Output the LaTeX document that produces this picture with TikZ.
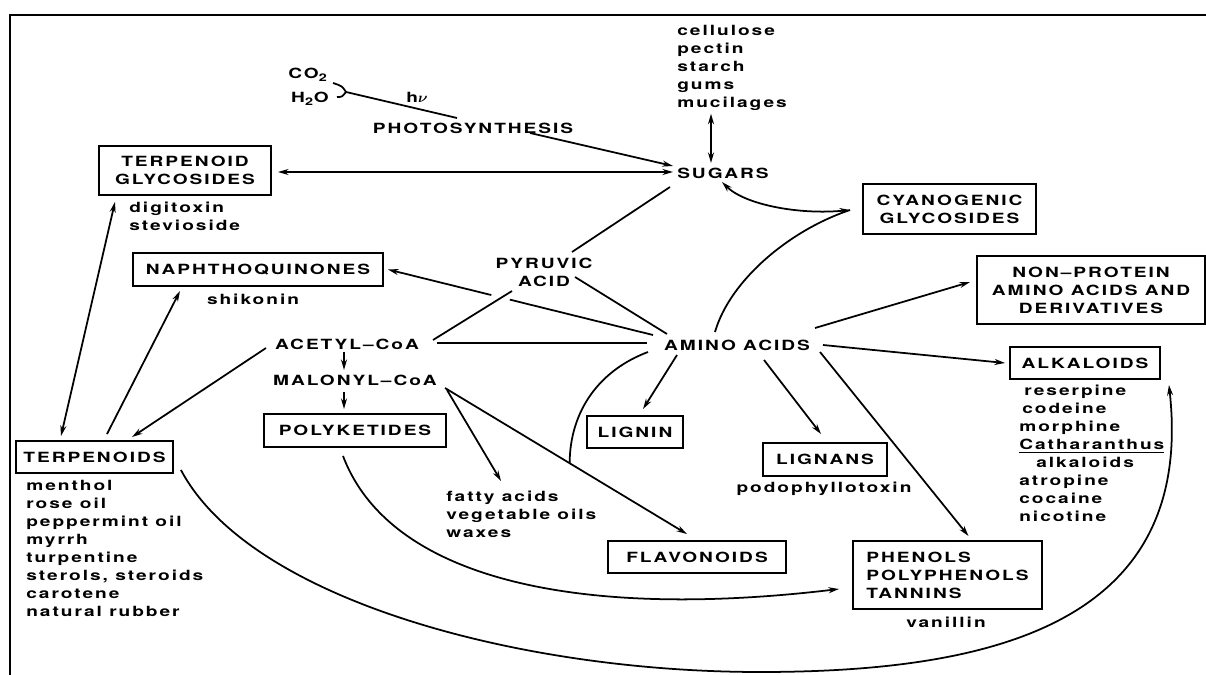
\documentclass[tikz,border=0pt]{standalone}
\usepackage{fontspec}
\setmainfont{TeX Gyre Heros}[FakeStretch=1.36,LetterSpace=14]
\usetikzlibrary{arrows.meta}
\tikzset{
    boxd/.style={draw,line width=1.1pt,inner sep=1pt,align=center},
    word/.style={inner sep=1.5pt,align=center},
    items/.style={inner sep=0pt,align=left,anchor=north west},
    wire/.style={line width=1pt},
    arw/.style={wire,-{Stealth[length=6pt,width=3.4pt]}},
    darw/.style={wire,{Stealth[length=6pt,width=3.4pt]}-{Stealth[length=6pt,width=3.4pt]}}
}

\begin{document}
\begin{tikzpicture}[x=0.02cm,y=-0.02cm,font=\fontsize{8}{10.2}\selectfont\bfseries]
    \useasboundingbox (0,0) rectangle (1206,675);
    \draw[line width=1pt] (10,675) -- (10,15) -- (1206,15);

    \node[word] (co2) at (308,75) {CO\textsubscript{2}};
    \node[word] (h2o) at (310,99) {H\textsubscript{2}O};
    \node[word] (hnu) at (417,97) {h{\boldmath$\nu$}};
    \node[word] (pho) at (473,128) {PHOTOSYNTHESIS};
    \node[word] (sug) at (723,173) {SUGARS};
    \node[items] (cel) at (677,25) {cellulose\\pectin\\starch\\gums\\mucilages};
    \node[boxd,minimum width=3.44cm,minimum height=0.98cm] (tgl) at (185,170.5) {TERPENOID\\GLYCOSIDES};
    \node[items] (tgx) at (129,202) {digitoxin\\stevioside};
    \node[boxd,minimum width=5cm,minimum height=0.66cm] (nph) at (258,269.5) {NAPHTHOQUINONES};
    \node[word] (shk) at (253,299) {shikonin};
    \node[word] (pyr) at (544,272) {PYRUVIC\\ACID};
    \node[boxd,minimum width=3.46cm,minimum height=1cm] (cyg) at (949.5,209) {CYANOGENIC\\GLYCOSIDES};
    \node[boxd,minimum width=4.56cm,minimum height=1.36cm] (npa) at (1091,290) {NON\textendash PROTEIN\\AMINO ACIDS AND\\DERIVATIVES};
    \node[word] (act) at (347,344) {ACETYL\textendash CoA};
    \node[word] (mal) at (355,380) {MALONYL\textendash CoA};
    \node[word] (ami) at (737,345) {AMINO ACIDS};
    \node[boxd,minimum width=3.14cm,minimum height=0.64cm] (trp) at (94.5,457) {TERPENOIDS};
    \node[items] (trx) at (26,480) {menthol\\rose oil\\peppermint oil\\myrrh\\turpentine\\sterols, steroids\\carotene\\natural rubber};
    \node[boxd,minimum width=3.64cm,minimum height=0.66cm] (pk) at (355,430.5) {POLYKETIDES};
    \node[items] (fat) at (446,491) {fatty acids\\vegetable oils\\waxes};
    \node[boxd,minimum width=1.92cm,minimum height=0.64cm] (lgn) at (635,432) {LIGNIN};
    \node[boxd,minimum width=2.48cm,minimum height=0.66cm] (lgs) at (825,459.5) {LIGNANS};
    \node[word] (pod) at (824,489) {podophyllotoxin};
    \node[boxd,minimum width=3cm,minimum height=0.64cm] (alk) at (1085,363) {ALKALOIDS};
    \node[items] (alx) at (1019,385) {\hspace*{0.1cm}reserpine\\\hspace*{0.06cm}codeine\\morphine\\\underline{Catharanthus}\\\hspace*{0.34cm}alkaloids\\atropine\\cocaine\\nicotine};
    \node[boxd,minimum width=3.56cm,minimum height=0.64cm] (flv) at (697,557) {FLAVONOIDS};
    \node[boxd,align=left,minimum width=3.78cm,minimum height=1.36cm] (phn) at (947.5,575) {PHENOLS\\POLYPHENOLS\\TANNINS};
    \node[word] (van) at (946,622) {vanillin};

    \coordinate (jn) at (346,92);
    \draw[wire] ([shift={(25,8)}]co2.center) .. controls (342,86) .. (jn);
    \draw[wire] ([shift={(27,-2)}]h2o.center) .. controls (342,97) .. (jn);
    \draw[wire] (jn) -- ([shift={(-16,-10)}]pho.center);
    \draw[arw] ([shift={(57,5)}]pho.center) -- ([shift={(-50,-7)}]sug.center);
    \draw[darw] ([shift={(6,1.5)}]tgl.east) -- ([shift={(-50,-1)}]sug.center);
    \draw[darw] ([shift={(34,3)}]cel.south west) -- ([shift={(-12,-10)}]sug.center);
    \draw[wire] ([shift={(28,-20)}]pyr.center) -- ([shift={(-53,14)}]sug.center);
    \draw[wire] ([shift={(31,5)}]pyr.center) -- ([shift={(-70,-11)}]ami.center);
    \draw[wire] ([shift={(-32,19)}]pyr.center) -- ([shift={(86,-4)}]act.center);
    \draw[wire] ([shift={(90,-1)}]act.center) -- ([shift={(-90,-2)}]ami.center);

    \coordinate (na) at ([shift={(-84,-10)}]ami.center);
    \coordinate (nb) at ([shift={(4,0)}]nph.east);
    \path (na) -- coordinate[pos=0.54] (g1) coordinate[pos=0.61] (g2) (nb);
    \draw[wire] (na) -- (g1);
    \draw[arw] (g2) -- (nb);

    \coordinate (cin) at ([shift={(-12,1)}]cyg.west);
    \draw[darw] ([shift={(-1,9)}]sug.center) .. controls (745,205) and (800,215) .. (cin);
    \draw[wire] ([shift={(-22,-13)}]ami.center) .. controls (730,280) and (790,230) .. (cin);

    \draw[arw] ([shift={(-60,10)}]ami.center) -- ([shift={(8,-6)}]lgn.north);
    \draw[arw] ([shift={(78,-17)}]ami.center) -- ([shift={(-6,-8)}]npa.west);
    \draw[arw] ([shift={(86,0)}]ami.center) -- ([shift={(-4,0)}]alk.west);
    \draw[arw] ([shift={(27,15)}]ami.center) -- ([shift={(-4,-8)}]lgs.north);
    \draw[arw] ([shift={(83,7)}]ami.center) -- ([shift={(21,-4)}]phn.north);

    \draw[arw] ([shift={(-3,8)}]act.center) -- ([shift={(-11,-10)}]mal.center);
    \draw[arw] ([shift={(-11,12)}]mal.center) -- ([shift={(-11,-4)}]pk.north);
    \draw[arw] ([shift={(92,10)}]mal.center) -- ([shift={(55,-10)}]fat.north west);
    \draw[arw] ([shift={(90,8)}]mal.center) -- coordinate[pos=0.515] (mrg) ([shift={(-10,-6)}]flv.north);
    \draw[wire] ([shift={(-89,7)}]ami.center) .. controls (600,370) and (570,410) .. (mrg);

    \draw[arw] ([shift={(-81,4)}]act.center) -- ([shift={(37.5,-3)}]trp.north);
    \draw[darw] ([shift={(-33.5,-4)}]trp.north) -- ([shift={(-70,6)}]tgl.south);
    \draw[arw] ([shift={(12.5,-6)}]trp.north) -- ([shift={(-78,4)}]nph.south);

    \coordinate (low) at (760,672);
    \draw[arw] ([shift={(7,13)}]trp.east) .. controls (250,600) and (520,672) .. (low)
        .. controls (1000,672) and (1195,620) .. ([shift={(8,5)}]alk.south east);
    \draw[arw] ([shift={(-12,8)}]pk.south) .. controls (390,580) and (580,620) .. ([shift={(-13,14)}]phn.west);
\end{tikzpicture}
\end{document}
